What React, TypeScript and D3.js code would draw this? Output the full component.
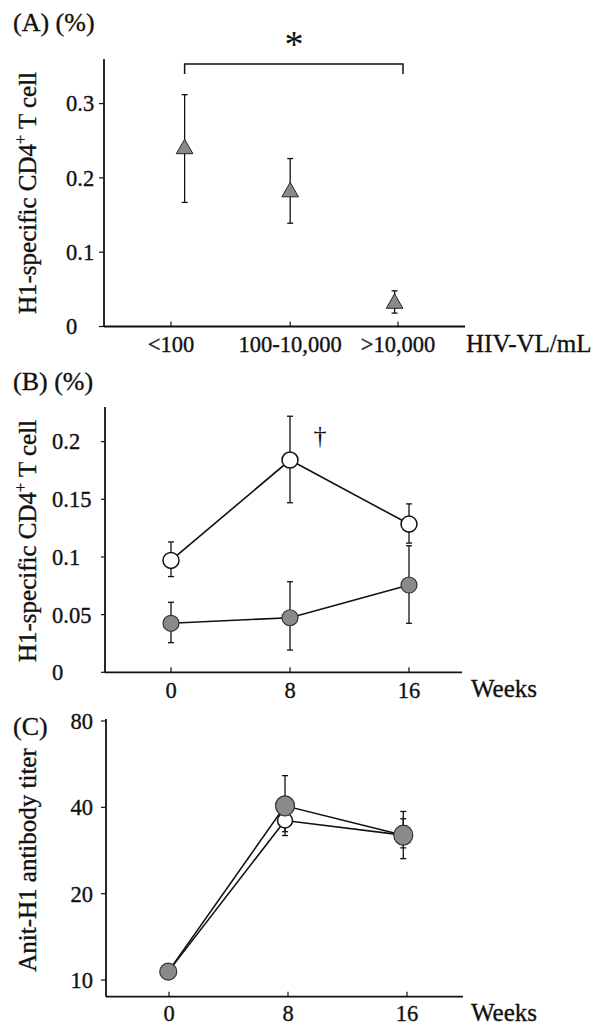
import * as d3 from 'd3';

// (A) H1-specific CD4+ T cells by HIV viral load
const vlCategories = ['<100', '100-10,000', '>10,000'];
const vlTickPos = [0, 1.05, 2];
const vlPointPos = [0.12, 1.05, 1.97];
const vlMean = [0.239, 0.181, 0.031];
const vlLow = [0.167, 0.139, 0.018];
const vlHigh = [0.312, 0.226, 0.048];
const vlTicks = [0, 0.1, 0.2, 0.3];

// (B) H1-specific CD4+ T cells over weeks
const weeks = [0, 8, 16];
const cd4OpenMean = [0.097, 0.184, 0.1285];
const cd4OpenLow = [0.083, 0.147, 0.112];
const cd4OpenHigh = [0.113, 0.222, 0.146];
const cd4FilledMean = [0.0425, 0.0473, 0.0757];
const cd4FilledLow = [0.0257, 0.0193, 0.0425];
const cd4FilledHigh = [0.0607, 0.0785, 0.1097];
const cd4Ticks = [0, 0.05, 0.1, 0.15, 0.2];
const cd4TickLabels = ['0', '0.05', '0.1', '0.15', '0.2'];

// (C) anti-H1 antibody titer over weeks
const titerWeekPos = [-0.05, 7.8, 15.75];
const titerOpenMean = [10.7, 36, 32];
const titerOpenLow = [NaN, 32.9, 28.9];
const titerOpenHigh = [NaN, 39.4, 36.5];
const titerFilledMean = [10.7, 40.5, 32];
const titerFilledLow = [NaN, 31.9, 26.5];
const titerFilledHigh = [NaN, 51.6, 38.7];
const titerTicks = [10, 20, 40, 80];

const FONT = 'Liberation Serif, Times New Roman, serif';
const GRAY = '#8a8a8a';
const TICK_FS = 22.5;
const UNIT_FS = 25;

type Pt = { x: number; y: number; lo: number; hi: number };

function ErrorBars({ pts, cap = 3 }: { pts: Pt[]; cap?: number }) {
  return (
    <g stroke="#111" strokeWidth={1.3}>
      {pts.filter(p => !isNaN(p.lo)).map((p, i) => (
        <g key={i}>
          <line x1={p.x} x2={p.x} y1={p.lo} y2={p.hi} />
          <line x1={p.x - cap} x2={p.x + cap} y1={p.lo} y2={p.lo} />
          <line x1={p.x - cap} x2={p.x + cap} y1={p.hi} y2={p.hi} />
        </g>
      ))}
    </g>
  );
}

function YTitle({ x, y, children }: { x: number; y: number; children: any }) {
  return (
    <text transform={`translate(${x},${y}) rotate(-90)`} textAnchor="middle" fontSize={25}>
      {children}
    </text>
  );
}

function CD4Title({ x, y }: { x: number; y: number }) {
  return (
    <YTitle x={x} y={y}>
      H1-specific CD4<tspan dy={-10} fontSize={16}>+</tspan>
      <tspan dy={10}> T cell</tspan>
    </YTitle>
  );
}

export default function App() {
  // ---- panel A scales
  const xA = d3.scaleLinear().domain([0, 2]).range([171, 398]);
  const yA = d3.scaleLinear().domain([0, 0.36]).range([326.5, 59]);
  const ptsA: Pt[] = vlMean.map((m, i) => ({
    x: xA(vlPointPos[i]), y: yA(m), lo: yA(vlLow[i]), hi: yA(vlHigh[i]),
  }));
  const tri = d3.symbol().type(d3.symbolTriangle).size(120)();

  // ---- panel B scales
  const xB = d3.scaleLinear().domain([0, 16]).range([171, 409]);
  const yB = d3.scaleLinear().domain([0, 0.23]).range([672.3, 407]);
  const mk = (means: number[], lows: number[], highs: number[], xs: number[], sx: (v: number) => number, sy: (v: number) => number): Pt[] =>
    means.map((m, i) => ({ x: sx(xs[i]), y: sy(m), lo: sy(lows[i]), hi: sy(highs[i]) }));
  const bOpen = mk(cd4OpenMean, cd4OpenLow, cd4OpenHigh, weeks, xB, yB);
  const bFilled = mk(cd4FilledMean, cd4FilledLow, cd4FilledHigh, weeks, xB, yB);

  // ---- panel C scales
  const xC = d3.scaleLinear().domain([0, 16]).range([169, 407]);
  const yC = d3.scaleLog().base(2).domain([8.75, 80]).range([996.7, 721]);
  const yCs = (v: number) => (isNaN(v) ? NaN : yC(v));
  const cOpen = mk(titerOpenMean, titerOpenLow, titerOpenHigh, titerWeekPos, xC, yCs);
  const cFilled = mk(titerFilledMean, titerFilledLow, titerFilledHigh, titerWeekPos, xC, yCs);

  const line = d3.line<Pt>().x(d => d.x).y(d => d.y);

  return (
    <svg width={604} height={1025} style={{ position: 'absolute', left: 0, top: 0, background: '#fff' }}
      fontFamily={FONT} fill="#111">
      <rect width={604} height={1025} fill="#fff" />

      {/* ================= Panel A ================= */}
      <g stroke="#111" strokeWidth={0.35}>
        <text x={13} y={31} fontSize={26}>(A) (%)</text>
        <CD4Title x={36} y={193} />
        {vlTicks.map(t => (
          <text key={t} x={66} y={yA(t)} dy="0.35em" fontSize={TICK_FS}>{t === 0 ? '0' : String(t)}</text>
        ))}
        {vlCategories.map((c, i) => (
          <text key={c} x={xA(vlTickPos[i])} y={352} textAnchor="middle" fontSize={TICK_FS}>{c}</text>
        ))}
        <text x={466} y={352} fontSize={UNIT_FS}>HIV-VL/mL</text>
      </g>
      <text x={294} y={57} textAnchor="middle" fontSize={38} fontWeight={300}>*</text>
      <g stroke="#111" strokeWidth={1.8} fill="none">
        <line x1={104} x2={104} y1={59} y2={yA(0)} />
        <line x1={104} x2={465} y1={yA(0)} y2={yA(0)} />
        {vlTicks.map(t => <line key={t} x1={99} x2={104} y1={yA(t)} y2={yA(t)} strokeWidth={1.2} />)}
        {vlTickPos.map(t => <line key={t} x1={xA(t)} x2={xA(t)} y1={yA(0)} y2={yA(0) - 5} strokeWidth={1.2} />)}
      </g>
      {/* significance bracket */}
      <path d={`M${xA(vlPointPos[0])},74V64H403V74`} fill="none" stroke="#111" strokeWidth={1.5} />
      <ErrorBars pts={ptsA} />
      {ptsA.map((p, i) => (
        <path key={i} d={tri ?? ''} transform={`translate(${p.x},${p.y})`} fill={GRAY} stroke="#222" strokeWidth={1} />
      ))}

      {/* ================= Panel B ================= */}
      <g stroke="#111" strokeWidth={0.35}>
        <text x={13} y={390} fontSize={26}>(B) (%)</text>
        <CD4Title x={36} y={541} />
        {cd4Ticks.map((t, i) => (
          <text key={t} x={52} y={yB(t)} dy="0.35em" fontSize={TICK_FS}>{cd4TickLabels[i]}</text>
        ))}
        {weeks.map(w => (
          <text key={w} x={xB(w)} y={698} textAnchor="middle" fontSize={TICK_FS}>{w}</text>
        ))}
        <text x={471} y={697} fontSize={UNIT_FS}>Weeks</text>
      </g>
      <text x={320} y={444} textAnchor="middle" fontSize={26}>†</text>
      <g stroke="#111" strokeWidth={1.8} fill="none">
        <line x1={105} x2={105} y1={407} y2={yB(0)} />
        <line x1={105} x2={462} y1={yB(0)} y2={yB(0)} />
        {cd4Ticks.map(t => <line key={t} x1={101} x2={105} y1={yB(t)} y2={yB(t)} strokeWidth={1.2} />)}
        {weeks.map(t => <line key={t} x1={xB(t)} x2={xB(t)} y1={yB(0)} y2={yB(0) - 5} strokeWidth={1.2} />)}
      </g>
      <path d={line(bOpen) ?? ''} fill="none" stroke="#111" strokeWidth={1.6} />
      <path d={line(bFilled) ?? ''} fill="none" stroke="#111" strokeWidth={1.6} />
      <ErrorBars pts={bOpen} />
      <ErrorBars pts={bFilled} />
      {bFilled.map((p, i) => <circle key={i} cx={p.x} cy={p.y} r={8} fill={GRAY} stroke="#333" strokeWidth={1.2} />)}
      {bOpen.map((p, i) => <circle key={i} cx={p.x} cy={p.y} r={8} fill="#fff" stroke="#111" strokeWidth={1.5} />)}

      {/* ================= Panel C ================= */}
      <g stroke="#111" strokeWidth={0.35}>
        <text x={13} y={735} fontSize={26}>(C)</text>
        <YTitle x={36} y={860}>Anit-H1 antibody titer</YTitle>
        {titerTicks.map(t => (
          <text key={t} x={93} y={yC(t)} dy="0.35em" textAnchor="end" fontSize={TICK_FS}>{t}</text>
        ))}
        {weeks.map(w => (
          <text key={w} x={xC(w)} y={1021} textAnchor="middle" fontSize={TICK_FS}>{w}</text>
        ))}
        <text x={471} y={1021} fontSize={UNIT_FS}>Weeks</text>
      </g>
      <g stroke="#111" strokeWidth={1.8} fill="none">
        <line x1={106} x2={106} y1={719} y2={996.7} />
        <line x1={106} x2={463} y1={996.7} y2={996.7} />
        {titerTicks.map(t => <line key={t} x1={101} x2={106} y1={yC(t)} y2={yC(t)} strokeWidth={1.2} />)}
        {weeks.map(t => <line key={t} x1={xC(t)} x2={xC(t)} y1={996.7} y2={991.7} strokeWidth={1.2} />)}
      </g>
      <path d={line(cOpen) ?? ''} fill="none" stroke="#111" strokeWidth={1.6} />
      <path d={line(cFilled) ?? ''} fill="none" stroke="#111" strokeWidth={1.6} />
      <ErrorBars pts={cOpen} />
      <ErrorBars pts={cFilled} />
      {cOpen.map((p, i) => <circle key={i} cx={p.x} cy={p.y} r={7.5} fill="#fff" stroke="#111" strokeWidth={1.5} />)}
      {cFilled.map((p, i) => (
        <ellipse key={i} cx={p.x} cy={p.y} rx={i === 0 ? 8.5 : 9.5} ry={i === 0 ? 8.5 : 10} fill={GRAY} stroke="#333" strokeWidth={1.2} />
      ))}
    </svg>
  );
}
